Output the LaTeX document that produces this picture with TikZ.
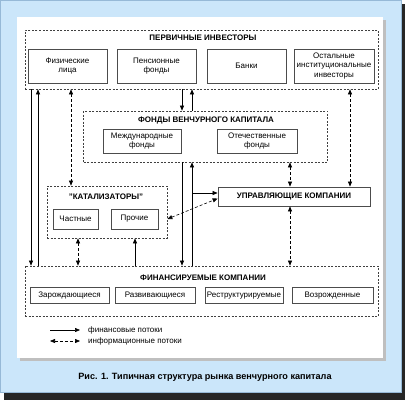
\documentclass[tikz,border=0pt]{standalone}
\usepackage{fontspec}
\setmainfont{Liberation Sans}
\usepackage{tikz}
\usetikzlibrary{arrows.meta}

\definecolor{skyblue}{RGB}{203,230,250}
\definecolor{skyedge}{RGB}{150,185,215}

\tikzset{
  group/.style={draw=black!75,line width=0.7pt,dash pattern=on 2pt off 1.5pt,inner sep=0pt},
  unit/.style={draw=black!70,line width=0.8pt,fill=white,align=center,inner sep=1pt,
               font=\fontsize{8}{9.2}\selectfont},
  title/.style={font=\fontsize{8}{9}\selectfont\bfseries,inner sep=0pt},
  money/.style={draw=black,line width=0.6pt,-{Triangle[length=5pt,width=4pt]}},
  info/.style={draw=black,line width=0.6pt,dash pattern=on 3pt off 2pt,
               {Triangle[length=5pt,width=4pt]}-{Triangle[length=5pt,width=4pt]}}
}

\begin{document}
\begin{tikzpicture}[x=1pt,y=-1pt]
		% frame
		\fill[black!85] (4,4) rectangle (405,400);
		\filldraw[fill=skyblue,draw=skyedge,line width=1pt] (0.5,0.5) rectangle (401,392);
		\fill[gray!50] (20,20) rectangle (386,361);
		\fill[white] (17,17) rectangle (383,358);
		\useasboundingbox (0,0) rectangle (405,400);

		\begin{scope}[every node/.style={group}]
		    \node (inv) at (201.5,59.5) [minimum width=353pt,minimum height=59pt] {};
		    \node (fund) at (205.5,136.5) [minimum width=244pt,minimum height=51pt] {};
		    \node (cat) at (107,212) [minimum width=120pt,minimum height=52pt] {};
		    \node (fin) at (201.5,291) [minimum width=353pt,minimum height=50pt] {};
		\end{scope}

		\begin{scope}[every node/.style={title}]
		    \node (invtitle) at (203,38) {ПЕРВИЧНЫЕ ИНВЕСТОРЫ};
		    \node (fundtitle) at (206,120) {ФОНДЫ ВЕНЧУРНОГО КАПИТАЛА};
		    \node (cattitle) at (106,197) {"КАТАЛИЗАТОРЫ"};
		    \node (fintitle) at (203,278) {ФИНАНСИРУЕМЫЕ КОМПАНИИ};
		\end{scope}

		\begin{scope}[every node/.style={unit}]
		    \node (ind) at (67.5,66) [minimum width=79pt,minimum height=34pt] {Физические\\лица};
		    \node (pens) at (156.5,66) [minimum width=79pt,minimum height=34pt] {Пенсионные\\фонды};
		    \node (bank) at (246.5,66) [minimum width=79pt,minimum height=34pt] {Банки};
		    \node (rest) at (334,66) [minimum width=80pt,minimum height=34pt] {Остальные\\институциональные\\инвесторы};
		    \node (intl) at (142,141) [minimum width=78pt,minimum height=24pt] {Международные\\фонды};
		    \node (dom) at (257,141) [minimum width=80pt,minimum height=24pt] {Отечественные\\фонды};
		    \node (priv) at (75.5,219) [minimum width=45pt,minimum height=20pt] {Частные};
		    \node (other) at (134.5,219) [minimum width=47pt,minimum height=20pt] {Прочие};
		    \node (mgmt) at (294,196.5) [minimum width=152pt,minimum height=19pt,
		                                 font=\fontsize{8}{9}\selectfont\bfseries] {УПРАВЛЯЮЩИЕ КОМПАНИИ};
		    \node (seed) at (69.5,295.5) [minimum width=79pt,minimum height=16pt] {Зарождающиеся};
		    \node (grow) at (155,295.5) [minimum width=80pt,minimum height=16pt] {Развивающиеся};
		    \node (restr) at (244,295.5) [minimum width=78pt,minimum height=16pt] {Реструктурируемые};
		    \node (reborn) at (332.5,295.5) [minimum width=81pt,minimum height=16pt] {Возрожденные};
		\end{scope}

		% columns of the connectors
		\coordinate (c1) at (31,0);
		\coordinate (c2) at (38,0);
		\coordinate (c3) at (71,0);
		\coordinate (c4) at (78,0);
		\coordinate (c5) at (135,0);
		\coordinate (c6) at (182,0);
		\coordinate (c7) at (192,0);
		\coordinate (c8) at (290,0);
		\coordinate (c9) at (350,0);
		\coordinate (junc) at (192,193);

		\begin{scope}[every edge/.style={money}]
		    \path (inv.south -| c1) edge (fin.north -| c1);
		    \path (fin.north -| c2) edge (inv.south -| c2);
		    \path (fin.north -| c5) edge (cat.south -| c5);
		    \path (inv.south -| c6) edge (fund.north -| c6);
		    \path (fund.north -| c7) edge (inv.south -| c7);
		    \path (fund.south -| c6) edge (fin.north -| c6);
		    \path (fin.north -| c7) edge (fund.south -| c7);
		    \path (junc) edge (junc -| mgmt.west);
		\end{scope}

		\begin{scope}[every edge/.style={info}]
		    \path (inv.south -| c3) edge (cat.north -| c3);
		    \path (cat.south -| c4) edge (fin.north -| c4);
		    \path (fund.south -| c8) edge (mgmt.north -| c8);
		    \path (mgmt.south -| c8) edge (fin.north -| c8);
		    \path (inv.south -| c9) edge (mgmt.north -| c9);
		    \path ([yshift=-7pt]cat.east) edge ([yshift=-2pt]mgmt.west);
		\end{scope}

		% legend
		\coordinate (m1) at (50,330);
		\coordinate (m2) at (80,330);
		\coordinate (i1) at (50,341);
		\coordinate (i2) at (80,341);
		\path (m1) edge [money] (m2);
		\path (i1) edge [info] (i2);
		\begin{scope}[every node/.style={anchor=west,inner sep=0pt,font=\fontsize{8}{9}\selectfont}]
		    \node (moneytext) at (88,330) {финансовые потоки};
		    \node (infotext) at (88,341) {информационные потоки};
		\end{scope}

		\node (caption) at (205,377) [font=\fontsize{9.1}{10}\selectfont\bfseries] {Рис. 1. Типичная структура рынка венчурного капитала};
\end{tikzpicture}
\end{document}
